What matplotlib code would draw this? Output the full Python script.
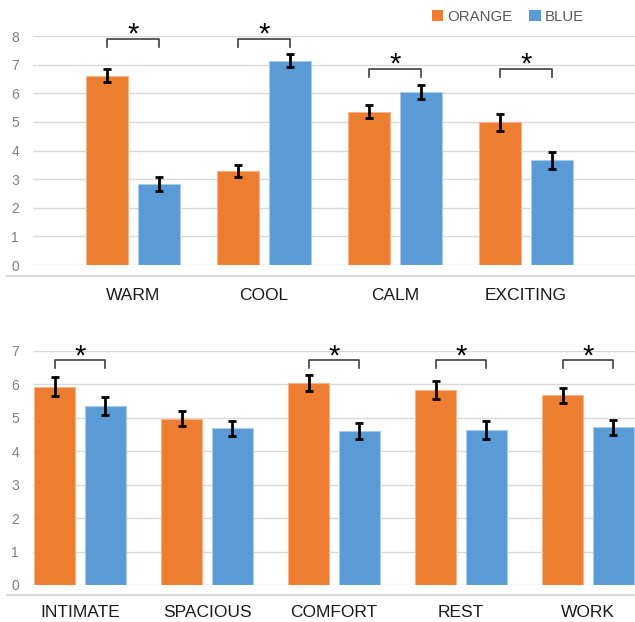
import matplotlib
matplotlib.use("Agg")
import matplotlib.pyplot as plt
from matplotlib.patches import Patch
from matplotlib.lines import Line2D
import numpy as np

plt.rcParams['font.family'] = ['Liberation Sans', 'DejaVu Sans']

# ---- data -------------------------------------------------------------
top_categories = ["WARM", "COOL", "CALM", "EXCITING"]
top_orange = [6.62, 3.29, 5.36, 4.99]
top_orange_err = [0.23, 0.22, 0.22, 0.30]
top_blue = [2.82, 7.14, 6.04, 3.66]
top_blue_err = [0.24, 0.24, 0.25, 0.30]
top_bracket_levels = [7.91, 7.91, 6.85, 6.85]

bottom_categories = ["INTIMATE", "SPACIOUS", "COMFORT", "REST", "WORK"]
bottom_orange = [5.93, 4.98, 6.03, 5.83, 5.67]
bottom_orange_err = [0.28, 0.23, 0.24, 0.27, 0.22]
bottom_blue = [5.35, 4.69, 4.62, 4.64, 4.72]
bottom_blue_err = [0.27, 0.22, 0.24, 0.27, 0.22]
bottom_bracket_levels = [6.74, None, 6.74, 6.74, 6.74]

series_names = ["ORANGE", "BLUE"]

# ---- style --------------------------------------------------------------
ORANGE = "#ED7D31"
BLUE = "#5B9BD5"
GRID = "#D9D9D9"
TICK = "#808080"
W, H = 635, 622

fig = plt.figure(figsize=(W / 100, H / 100), dpi=100)


def px_axes(left, right, top, bottom):
    return fig.add_axes([left / W, 1 - bottom / H, (right - left) / W, (bottom - top) / H])


def draw_panel(ax, cats, orange, oerr, blue, berr, levels, ymax, xlim,
               bracket_h, star_off, label_off):
    x = np.arange(len(cats))
    bw = 0.32
    off = 0.2
    ax.bar(x - off, orange, bw, color=ORANGE, edgecolor="#F6B48A", linewidth=0.8, zorder=3)
    ax.bar(x + off, blue, bw, color=BLUE, edgecolor="#A9CBEA", linewidth=0.8, zorder=3)
    ekw = dict(fmt="none", ecolor="black", elinewidth=2.0, capsize=3, capthick=2.0, zorder=4)
    ax.errorbar(x - off, orange, yerr=oerr, **ekw)
    ax.errorbar(x + off, blue, yerr=berr, **ekw)

    # significance brackets
    for xi, lvl in zip(x, levels):
        if lvl is None:
            continue
        ax.plot([xi - off, xi - off, xi + off, xi + off],
                [lvl - bracket_h, lvl, lvl, lvl - bracket_h],
                color="#404040", lw=1.2, clip_on=False, zorder=5)
        ax.annotate("*", xy=(xi, lvl), xytext=(0, star_off), textcoords="offset points",
                    ha="center", va="center", fontsize=21, color="black",
                    annotation_clip=False)

    ax.set_xlim(*xlim)
    ax.set_ylim(0, ymax)
    ax.set_yticks(range(ymax + 1))
    ax.yaxis.grid(True, color=GRID, linewidth=1.0, zorder=0)
    ax.set_axisbelow(True)
    for s in ax.spines.values():
        s.set_visible(False)
    ax.tick_params(axis="y", length=0, pad=10, labelsize=10, labelcolor=TICK)
    ax.set_xticks([])
    for xi, name in zip(x, cats):
        ax.annotate(name, xy=(xi, 0), xycoords=("data", "axes fraction"),
                    xytext=(0, -label_off), textcoords="offset points",
                    ha="center", va="center", fontsize=12.5, color="#1a1a1a")


ax_top = px_axes(33, 635, 36, 265)
draw_panel(ax_top, top_categories, top_orange, top_orange_err, top_blue, top_blue_err,
           top_bracket_levels, 8, ((33 - 133) / 131, (635 - 133) / 131),
           0.28, 3.2, 22)

ax_bot = px_axes(33, 635, 351, 585)
draw_panel(ax_bot, bottom_categories, bottom_orange, bottom_orange_err, bottom_blue,
           bottom_blue_err, bottom_bracket_levels, 7, ((33 - 80) / 127, (635 - 80) / 127),
           0.26, 2.0, 20)

# category axis lines under each panel
for yline in (276, 595):
    fig.add_artist(Line2D([7 / W, 1], [1 - yline / H] * 2, color=GRID, lw=1.6))

handles = [Patch(facecolor=ORANGE, edgecolor="none"), Patch(facecolor=BLUE, edgecolor="none")]
fig.legend(handles, series_names, loc="center left", bbox_to_anchor=(432 / W, 1 - 17 / H),
           ncol=2, frameon=False, fontsize=10.8, labelcolor="#595959",
           handlelength=0.75, handleheight=0.75, handletextpad=0.3, columnspacing=1.1,
           borderpad=0, borderaxespad=0)

fig.savefig("out.png", dpi=100)
